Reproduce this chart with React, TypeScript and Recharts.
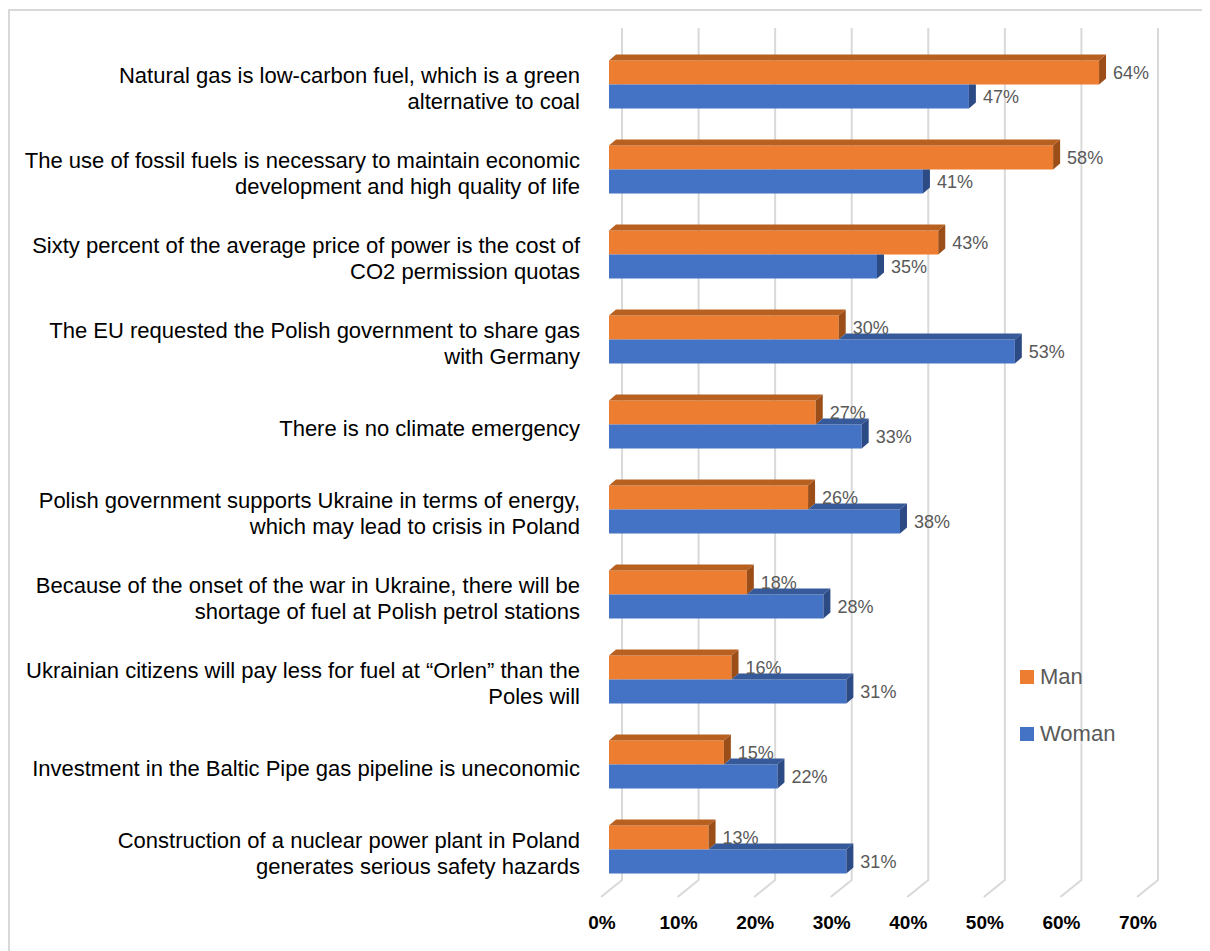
import React from 'react';
import { BarChart, Bar, XAxis, YAxis, CartesianGrid, Legend, LabelList } from 'recharts';

const categories = [
  'Natural gas is low-carbon fuel, which is a green\nalternative to coal',
  'The use of fossil fuels is necessary to maintain economic\ndevelopment and high quality of life',
  'Sixty percent of the average price of power is the cost of\nCO2 permission quotas',
  'The EU requested the Polish government to share gas\nwith Germany',
  'There is no climate emergency',
  'Polish government supports Ukraine in terms of energy,\nwhich may lead to crisis in Poland',
  'Because of the onset of the war in Ukraine, there will be\nshortage of fuel at Polish petrol stations',
  'Ukrainian citizens will pay less for fuel at \u201cOrlen\u201d than the\nPoles will',
  'Investment in the Baltic Pipe gas pipeline is uneconomic',
  'Construction of a nuclear power plant in Poland\ngenerates serious safety hazards',
];
const manValues = [64, 58, 43, 30, 27, 26, 18, 16, 15, 13];
const womanValues = [47, 41, 35, 53, 33, 38, 28, 31, 22, 31];
const xTicks = [0, 10, 20, 30, 40, 50, 60, 70];
const seriesNames = ['Man', 'Woman'];

const data = categories.map((c, i) => ({ category: c, man: manValues[i], woman: womanValues[i] }));

const FONT = '"Liberation Sans", Arial, sans-serif';
const DX = 7;
const DY = 6;
const ORANGE = { front: '#ED7D31', top: '#B8601F', side: '#9C4E18' };
const BLUE = { front: '#4472C4', top: '#36599A', side: '#2C4A84' };

const ManShape = (p: any) => {
  const { x, y, width, height } = p;
  const c = ORANGE;
  const r = x + width;
  const b = y + height;
  return (
    <g>
      <rect x={x} y={y} width={width} height={height} fill={c.front} />
      <polygon points={`${x},${y} ${x + DX},${y - DY} ${r + DX},${y - DY} ${r},${y}`} fill={c.top} />
      <polygon points={`${r},${y} ${r + DX},${y - DY} ${r + DX},${b - DY} ${r},${b}`} fill={c.side} />
    </g>
  );
};

const WomanShape = (p: any) => {
  const { x, y, width, height, payload } = p;
  const c = BLUE;
  const r = x + width;
  const b = y + height;
  const oE = payload && payload.woman ? x + (payload.man / payload.woman) * width : x;
  const topStart = Math.max(x, oE);
  const parts: any[] = [];
  parts.push(<rect key="f" x={x} y={y} width={width} height={height} fill={c.front} />);
  if (topStart < r) {
    parts.push(
      <polygon key="t" points={`${topStart},${y} ${topStart + DX},${y - DY} ${r + DX},${y - DY} ${r},${y}`} fill={c.top} />
    );
    parts.push(
      <polygon key="s" points={`${r},${y} ${r + DX},${y - DY} ${r + DX},${b - DY} ${r},${b}`} fill={c.side} />
    );
  } else {
    parts.push(
      <polygon key="s" points={`${r},${y} ${r + DX},${y} ${r + DX},${b - DY} ${r},${b}`} fill={c.side} />
    );
  }
  return <g>{parts}</g>;
};

const GridLine = (p: any) => {
  const { x1, y1, y2, index } = p;
  return (
    <polyline
      key={`g-${index}-${x1}`}
      points={`${x1 + 13},${y1 - 13.5} ${x1 + 13},${y2 - 11.5} ${x1 - 8},${y2 + 5.5}`}
      fill="none"
      stroke="#D9D9D9"
      strokeWidth={2}
    />
  );
};

const XTick = (p: any) => {
  const { x, y, payload } = p;
  return (
    <text x={x - 7} y={y + 37.5} textAnchor="middle" fontWeight="bold" fontSize={19} fill="#000" fontFamily={FONT}>
      {`${payload.value}%`}
    </text>
  );
};

const YTick = (p: any) => {
  const { x, y, payload } = p;
  const lines = String(payload.value).split('\n');
  const lh = 26;
  const first = y + 5 - ((lines.length - 1) * lh) / 2 + 7;
  return (
    <text textAnchor="end" fontSize={22} fill="#000" fontFamily={FONT}>
      {lines.map((l, i) => (
        <tspan key={i} x={x - 29} y={first + i * lh}>
          {l}
        </tspan>
      ))}
    </text>
  );
};

const LegendContent = (props: any) => {
  const payload = props.payload || [];
  return (
    <div style={{ fontFamily: FONT, fontSize: 22, color: '#595959' }}>
      {payload.map((it: any, i: number) => (
        <div key={i} style={{ display: 'flex', alignItems: 'center', height: 57 }}>
          <span style={{ display: 'inline-block', width: 14, height: 14, background: it.color, marginRight: 6 }} />
          <span>{it.value}</span>
        </div>
      ))}
    </div>
  );
};

const pct = (v: any) => `${v}%`;

export default function App() {
  return (
    <div style={{ position: 'relative', width: 1202, height: 943, overflow: 'hidden', fontFamily: FONT, background: '#fff' }}>
      <div
        style={{
          position: 'absolute',
          left: 0,
          top: 1,
          width: 1300,
          height: 1100,
          borderLeft: '2px solid #D9D9D9',
          borderTop: '2px solid #D9D9D9',
          pointerEvents: 'none',
        }}
      />
      <BarChart
        width={1202}
        height={943}
        data={data}
        layout="vertical"
        margin={{ top: 33.5, right: 65, bottom: 19.5, left: 0 }}
        barGap={0}
        barSize={24}
      >
        <CartesianGrid horizontal={false} vertical={GridLine} />
        <XAxis
          type="number"
          domain={[0, 70]}
          ticks={xTicks}
          axisLine={false}
          tickLine={false}
          tickSize={0}
          tickMargin={0}
          height={40}
          tick={<XTick />}
          interval={0}
        />
        <YAxis
          type="category"
          dataKey="category"
          width={601}
          axisLine={false}
          tickLine={false}
          tickSize={0}
          tickMargin={0}
          tick={<YTick />}
          interval={0}
        />
        <Legend
          layout="vertical"
          align="center"
          verticalAlign="middle"
          wrapperStyle={{ position: 'absolute', left: 1012, top: 640.5, width: 160 }}
          content={<LegendContent />}
        />
        <Bar dataKey="man" name={seriesNames[0]} fill={ORANGE.front} shape={ManShape} isAnimationActive={false}>
          <LabelList dataKey="man" position="right" offset={14} formatter={pct} fill="#595959" fontSize={18} fontFamily={FONT} />
        </Bar>
        <Bar dataKey="woman" name={seriesNames[1]} fill={BLUE.front} shape={WomanShape} isAnimationActive={false}>
          <LabelList dataKey="woman" position="right" offset={14} formatter={pct} fill="#595959" fontSize={18} fontFamily={FONT} />
        </Bar>
      </BarChart>
    </div>
  );
}
